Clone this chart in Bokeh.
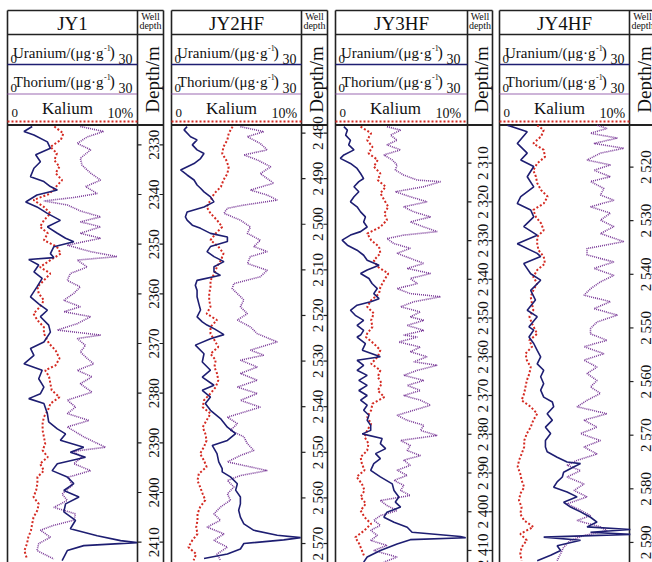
import math
from bokeh.plotting import figure
from bokeh.models import Range1d
from bokeh.embed import file_html
from bokeh.resources import INLINE
from bokeh.core.properties import value

# ---------------- data ----------------
well_names = ["JY1", "JY2HF", "JY3HF", "JY4HF"]

jy1_ticks = [2330, 2340, 2350, 2360, 2370, 2380, 2390, 2400, 2410]
jy1_tick_labels = ["2330", "2340", "2350", "2360", "2370", "2380", "2390", "2400", "2410"]
jy2_ticks = [2480, 2490, 2500, 2510, 2520, 2530, 2540, 2550, 2560, 2570]
jy2_tick_labels = ["2 480", "2 490", "2 500", "2 510", "2 520", "2 530", "2 540", "2 550", "2 560", "2 570"]
jy3_ticks = [2310, 2320, 2330, 2340, 2350, 2360, 2370, 2380, 2390, 2400, 2410]
jy3_tick_labels = ["2 310", "2 320", "2 330", "2 340", "2 350", "2 360", "2 370", "2 380", "2 390", "2 400", "2 410"]
jy4_ticks = [2520, 2530, 2540, 2550, 2560, 2570, 2580, 2590]
jy4_tick_labels = ["2 520", "2 530", "2 540", "2 550", "2 560", "2 570", "2 580", "2 590"]

# (depth m, uranium ug/g)
jy1_uranium = [(2326.3,5.7),(2327.3,3.8),(2328.0,6.1),(2329.4,9.2),(2330.7,9.9),(2332.0,6.5),(2333.4,7.6),(2334.7,6.1),(2336.4,5.3),(2337.4,8.4),(2338.4,9.9),(2339.1,11.5),(2340.1,6.8),(2341.5,4.2),(2342.5,6.8),(2343.8,9.2),(2345.2,12.2),(2346.5,9.2),(2347.8,11.5),(2348.8,13.4),(2349.5,15.3),(2350.5,10.7),(2351.9,9.9),(2352.7,10.7),(2353.1,4.9),(2354.2,7.2),(2355.6,6.1),(2356.9,8.0),(2358.6,6.8),(2360.6,5.3),(2362.0,7.2),(2363.3,9.2),(2364.6,7.6),(2366.3,9.5),(2367.7,9.9),(2369.7,8.4),(2371.0,5.3),(2372.4,6.1),(2374.1,3.8),(2375.4,8.0),(2377.1,7.2),(2378.8,8.4),(2380.1,7.6),(2381.1,4.9),(2382.1,8.4),(2384.1,9.2),(2385.8,9.5),(2387.2,11.5),(2388.2,13.4),(2389.5,12.2),(2390.9,17.6),(2391.9,14.5),(2392.9,18.0),(2394.2,11.5),(2395.6,10.3),(2396.9,13.8),(2398.2,15.3),(2399.6,13.0),(2400.9,16.5),(2402.3,13.4),(2403.9,13.0),(2405.6,15.7),(2407.3,14.5),(2408.7,20.7),(2409.7,26.1),(2410.1,29.9),(2410.7,17.6),(2411.7,13.8),(2413.7,12.6)]
# (depth m, thorium ug/g)
jy1_thorium = [(2326.3,16.8),(2327.3,22.2),(2328.4,18.4),(2329.7,16.1),(2331.0,19.2),(2332.7,16.8),(2334.1,17.2),(2335.7,19.2),(2337.1,21.5),(2338.4,18.0),(2339.8,20.7),(2340.6,15.3),(2341.3,8.4),(2342.1,13.8),(2343.3,16.8),(2344.5,21.5),(2345.5,16.8),(2346.5,21.5),(2347.8,16.8),(2348.8,21.5),(2350.2,13.8),(2351.5,19.2),(2352.5,25.3),(2353.2,16.1),(2354.6,18.4),(2355.9,14.5),(2357.3,13.8),(2358.6,16.8),(2359.9,15.3),(2361.3,13.0),(2362.6,16.8),(2363.6,13.0),(2364.6,19.2),(2366.0,16.1),(2367.3,11.5),(2368.3,21.5),(2369.0,16.1),(2370.4,18.0),(2371.7,16.8),(2373.0,18.4),(2374.1,19.9),(2375.4,16.1),(2376.7,19.5),(2378.1,16.8),(2379.8,19.5),(2381.4,13.8),(2382.8,15.7),(2384.1,13.8),(2385.5,18.8),(2386.8,13.8),(2388.8,17.6),(2390.9,22.6),(2391.7,15.3),(2392.9,17.2),(2394.2,15.3),(2395.6,19.2),(2396.9,14.1),(2398.6,14.9),(2400.3,12.6),(2401.6,13.8),(2403.0,10.7),(2404.3,15.7),(2405.6,15.3),(2406.6,10.7),(2407.6,7.6),(2409.0,9.9),(2410.3,7.2),(2411.7,6.8),(2413.4,10.7)]
# (depth m, kalium %)
jy1_kalium = [(2326.3,3.6),(2327.7,4.3),(2329.0,4.1),(2330.4,3.3),(2331.7,3.8),(2333.1,3.6),(2334.4,4.0),(2335.7,3.7),(2337.1,4.2),(2338.8,3.6),(2339.9,3.2),(2341.1,2.0),(2342.5,2.8),(2343.8,3.3),(2345.2,2.8),(2346.5,2.5),(2347.8,3.1),(2349.2,2.8),(2350.5,3.8),(2351.9,4.1),(2353.2,3.3),(2354.6,2.5),(2355.9,3.3),(2357.3,2.8),(2358.6,2.3),(2359.9,2.4),(2361.3,2.8),(2362.6,2.5),(2364.0,2.0),(2365.3,2.3),(2366.7,2.8),(2368.0,2.8),(2370.0,3.2),(2371.4,3.7),(2373.0,4.0),(2374.4,3.7),(2375.4,2.9),(2376.7,3.2),(2378.1,3.3),(2379.4,3.4),(2380.8,4.0),(2382.1,3.3),(2383.5,3.1),(2384.8,2.8),(2386.1,2.7),(2387.5,2.7),(2388.8,2.8),(2390.2,2.9),(2391.5,2.7),(2392.9,3.1),(2394.2,2.5),(2395.6,2.8),(2396.9,2.3),(2398.2,2.3),(2399.6,2.2),(2400.9,2.0),(2402.3,2.4),(2403.6,2.3),(2405.0,2.0),(2406.3,1.9),(2407.7,1.8),(2409.0,1.6),(2410.3,1.5),(2411.7,1.3),(2413.4,1.5)]

jy2_uranium = [(2478.6,3.6),(2479.3,2.9),(2480.8,4.4),(2481.5,5.9),(2482.6,4.8),(2483.7,5.9),(2484.5,7.5),(2485.6,6.7),(2486.7,5.2),(2488.1,2.1),(2489.2,3.6),(2490.3,5.2),(2491.4,5.9),(2492.1,6.7),(2492.9,7.5),(2494.0,9.0),(2495.1,9.8),(2496.2,7.5),(2497.3,3.6),(2498.4,3.2),(2499.1,3.6),(2500.2,4.8),(2500.9,6.7),(2502.0,9.0),(2502.8,12.9),(2503.8,12.9),(2504.9,9.0),(2506.0,8.2),(2507.1,9.8),(2508.2,12.1),(2509.3,9.8),(2510.4,9.8),(2511.2,11.3),(2512.3,5.9),(2513.4,5.5),(2514.5,5.9),(2515.9,5.9),(2517.4,6.3),(2518.8,6.7),(2520.3,5.9),(2521.4,7.1),(2522.1,8.2),(2523.0,10.0),(2524.2,12.1),(2525.1,9.0),(2526.5,5.5),(2528.4,7.5),(2530.2,7.1),(2532.0,9.0),(2533.5,7.1),(2535.3,9.8),(2536.4,7.1),(2537.9,9.0),(2539.3,7.8),(2540.8,9.0),(2542.6,11.3),(2544.5,12.9),(2545.9,14.8),(2547.4,12.9),(2548.5,9.4),(2550.3,10.5),(2552.1,10.9),(2553.6,11.7),(2554.3,11.7),(2555.4,13.6),(2556.9,15.2),(2558.3,14.8),(2559.8,15.9),(2561.3,15.9),(2562.7,15.5),(2564.2,15.9),(2565.7,16.7),(2567.1,19.0),(2568.2,24.4),(2568.7,29.8),(2569.2,25.9),(2570.0,16.7),(2571.2,15.9),(2572.3,12.9),(2573.3,7.5)]
jy2_thorium = [(2478.6,15.9),(2479.7,21.3),(2480.8,17.5),(2482.3,20.5),(2483.7,22.1),(2484.8,16.7),(2485.9,19.8),(2487.4,22.9),(2488.9,20.5),(2491.0,23.6),(2492.5,18.2),(2493.6,22.1),(2494.7,24.4),(2495.8,16.7),(2496.5,12.9),(2497.6,12.1),(2499.1,15.9),(2500.6,18.2),(2502.0,17.5),(2503.5,20.5),(2504.9,19.0),(2506.0,22.1),(2507.1,18.2),(2508.6,17.5),(2510.1,22.1),(2511.5,20.5),(2513.0,14.4),(2514.1,14.0),(2515.2,15.2),(2516.6,16.7),(2518.1,15.9),(2519.6,17.5),(2521.0,15.2),(2522.5,18.2),(2524.0,19.8),(2525.8,24.4),(2527.6,18.2),(2528.7,21.3),(2529.8,15.9),(2531.3,19.8),(2532.7,15.9),(2534.2,19.8),(2535.7,15.2),(2537.1,19.8),(2538.6,15.9),(2540.1,20.5),(2541.2,16.7),(2542.3,12.9),(2543.7,15.2),(2545.2,13.6),(2546.6,16.7),(2548.1,17.5),(2549.6,19.0),(2550.7,15.9),(2552.1,12.9),(2553.2,18.2),(2554.0,22.1),(2555.1,15.9),(2556.2,12.9),(2557.6,14.4),(2559.1,12.9),(2560.5,13.6),(2562.0,11.3),(2563.5,9.8),(2564.9,11.3),(2566.4,8.2),(2567.9,12.1),(2569.3,9.8),(2570.8,12.9),(2572.3,10.5),(2573.7,11.3)]
jy2_kalium = [(2478.6,4.7),(2480.1,4.4),(2481.5,4.3),(2483.0,4.0),(2484.5,3.9),(2485.9,4.2),(2487.4,4.4),(2488.9,4.3),(2490.3,4.0),(2491.8,3.8),(2493.2,3.3),(2494.7,3.0),(2496.2,2.7),(2497.6,3.0),(2499.1,3.5),(2500.6,3.9),(2502.0,3.4),(2503.5,3.0),(2504.9,3.6),(2506.4,4.0),(2507.9,3.8),(2509.3,3.5),(2510.8,3.3),(2512.3,3.0),(2513.7,3.0),(2515.2,2.9),(2516.6,2.9),(2518.1,3.0),(2519.6,2.7),(2521.0,3.5),(2522.5,3.0),(2524.0,3.0),(2525.4,3.3),(2526.9,3.6),(2528.4,3.0),(2529.8,3.4),(2531.3,3.3),(2532.7,3.5),(2534.2,3.6),(2535.7,3.4),(2537.1,3.0),(2538.6,2.5),(2540.1,2.4),(2541.5,3.0),(2543.0,2.7),(2544.5,2.4),(2545.9,2.6),(2547.4,2.7),(2548.8,2.5),(2550.3,2.2),(2551.8,2.5),(2553.2,2.7),(2554.7,2.1),(2556.2,2.0),(2557.6,2.2),(2559.1,2.4),(2560.5,2.6),(2562.0,2.2),(2563.5,2.0),(2564.9,2.0),(2566.4,1.9),(2567.9,2.0),(2569.3,1.6),(2570.8,1.3),(2572.3,1.9),(2573.7,1.7)]

jy3_uranium = [(2300.6,1.9),(2301.5,2.7),(2302.8,2.3),(2304.1,3.4),(2305.3,3.0),(2306.6,4.2),(2307.9,1.9),(2308.8,1.1),(2310.1,3.4),(2311.4,4.9),(2312.7,5.7),(2314.0,6.4),(2314.8,5.3),(2316.1,4.2),(2317.4,5.3),(2318.7,4.2),(2320.0,3.4),(2321.3,4.9),(2322.6,5.7),(2323.9,6.8),(2325.2,6.4),(2326.5,7.2),(2327.7,5.7),(2328.6,3.4),(2329.9,1.5),(2331.2,2.7),(2332.5,4.9),(2333.8,6.4),(2335.1,7.2),(2336.4,9.9),(2337.6,7.2),(2338.5,5.7),(2339.8,7.6),(2341.1,8.3),(2342.4,9.5),(2343.7,8.7),(2345.0,9.9),(2345.8,8.0),(2346.7,4.9),(2348.0,3.4),(2349.3,4.5),(2350.6,6.4),(2351.9,4.9),(2353.2,6.4),(2354.4,5.7),(2354.9,4.9),(2356.6,6.8),(2358.3,6.1),(2360.0,10.2),(2360.9,4.9),(2362.2,6.4),(2363.5,4.9),(2364.8,7.2),(2366.1,5.3),(2367.4,7.2),(2368.7,5.3),(2370.0,7.2),(2371.2,5.7),(2372.5,7.2),(2373.8,6.4),(2375.1,7.6),(2376.4,7.2),(2377.7,8.0),(2379.0,8.0),(2379.9,6.1),(2381.1,10.6),(2382.4,10.2),(2383.7,11.4),(2385.0,9.1),(2386.3,10.2),(2387.6,8.7),(2389.3,8.0),(2391.0,10.2),(2392.8,12.9),(2394.5,13.3),(2396.2,14.4),(2397.5,13.6),(2398.8,14.8),(2400.1,11.7),(2401.4,11.0),(2402.7,13.3),(2404.0,16.3),(2405.3,17.4),(2406.4,28.4),(2406.7,29.6),(2407.2,17.0),(2408.3,14.0),(2410.0,10.2),(2411.7,7.2),(2413.0,6.4)]
jy3_thorium = [(2300.6,11.7),(2301.5,14.8),(2302.8,12.5),(2304.1,14.0),(2305.3,11.7),(2306.6,14.8),(2307.9,11.0),(2309.2,12.9),(2310.5,14.0),(2311.8,13.6),(2313.1,15.5),(2314.4,18.6),(2314.8,23.9),(2316.1,20.1),(2317.4,13.6),(2318.7,17.0),(2320.0,20.8),(2321.3,15.5),(2322.6,17.8),(2323.9,21.6),(2325.2,17.0),(2326.5,20.1),(2327.7,23.1),(2328.6,15.5),(2329.5,11.7),(2330.8,13.3),(2332.0,17.0),(2333.3,14.0),(2334.6,17.0),(2335.9,20.1),(2337.2,16.3),(2338.5,21.6),(2339.8,17.0),(2341.1,18.6),(2342.4,14.0),(2343.7,17.0),(2344.5,23.9),(2345.8,17.8),(2347.1,14.8),(2348.4,19.3),(2349.7,17.0),(2350.6,20.1),(2351.9,16.3),(2353.2,20.1),(2354.4,15.5),(2354.9,18.6),(2356.2,14.4),(2357.5,19.3),(2358.7,17.0),(2360.0,20.8),(2361.3,17.8),(2362.2,23.1),(2363.5,18.6),(2364.8,15.5),(2366.1,20.1),(2367.4,16.3),(2368.7,19.3),(2370.0,15.5),(2371.2,19.3),(2372.5,21.6),(2373.8,17.8),(2375.1,14.0),(2376.4,16.3),(2377.7,20.1),(2379.0,19.3),(2380.3,23.1),(2381.6,14.8),(2382.9,17.0),(2384.2,16.3),(2385.5,19.3),(2386.7,15.5),(2388.0,17.0),(2389.3,14.0),(2390.6,16.3),(2391.9,13.3),(2393.2,15.5),(2394.5,14.8),(2395.8,17.0),(2397.1,10.2),(2398.4,11.7),(2399.7,14.0),(2401.0,10.2),(2402.2,8.7),(2403.5,10.2),(2404.8,8.0),(2406.1,9.5),(2407.4,8.0),(2408.7,11.7),(2410.0,8.7),(2411.7,14.0),(2413.0,11.0)]
jy3_kalium = [(2300.6,1.9),(2302.3,2.7),(2304.1,2.4),(2305.8,2.8),(2307.5,2.5),(2309.2,3.2),(2310.9,2.9),(2312.7,3.4),(2314.4,3.2),(2316.1,3.8),(2317.8,3.4),(2319.6,3.7),(2321.3,4.0),(2323.0,3.7),(2324.7,3.9),(2326.5,3.4),(2328.2,2.4),(2329.9,2.7),(2331.6,3.3),(2333.3,3.4),(2335.1,2.9),(2336.8,3.2),(2338.5,4.0),(2340.2,3.7),(2342.0,3.4),(2343.7,3.3),(2345.4,2.7),(2347.1,2.4),(2348.8,2.9),(2350.6,2.7),(2352.3,2.8),(2354.0,2.4),(2354.9,2.3),(2356.6,2.9),(2358.3,3.4),(2360.0,3.2),(2361.8,2.7),(2363.5,3.4),(2365.2,3.2),(2366.9,3.5),(2368.7,3.2),(2370.4,3.7),(2372.1,2.8),(2373.8,2.7),(2375.5,2.4),(2377.3,2.7),(2379.0,2.4),(2380.7,2.2),(2382.4,2.5),(2384.2,2.4),(2385.9,1.9),(2387.6,2.0),(2389.3,2.2),(2391.0,1.6),(2392.8,2.0),(2394.5,2.2),(2396.2,1.9),(2397.9,2.3),(2399.7,1.9),(2401.4,2.2),(2403.1,2.7),(2404.8,2.2),(2406.6,1.5),(2408.3,1.8),(2410.0,2.0),(2411.7,2.2)]

jy4_uranium = [(2512.2,1.8),(2513.4,6.4),(2515.6,4.1),(2517.4,6.4),(2518.7,4.9),(2519.9,7.9),(2521.8,6.4),(2523.7,7.9),(2525.5,4.9),(2526.8,4.1),(2528.0,7.2),(2529.3,7.9),(2531.1,5.6),(2532.7,8.7),(2534.3,4.1),(2536.1,8.7),(2536.7,9.5),(2538.0,5.6),(2539.9,7.2),(2541.1,9.5),(2543.0,7.2),(2544.8,8.3),(2546.7,6.4),(2547.9,8.7),(2549.8,6.8),(2550.4,7.9),(2551.7,6.8),(2552.9,7.9),(2554.2,8.7),(2555.4,9.5),(2556.7,8.7),(2557.9,10.2),(2559.1,9.5),(2560.4,10.2),(2561.6,9.5),(2562.9,10.2),(2563.8,12.2),(2564.7,12.5),(2566.0,11.0),(2567.2,12.2),(2568.5,10.6),(2569.7,11.8),(2571.0,10.6),(2572.2,10.6),(2573.1,11.0),(2574.1,13.3),(2575.0,15.6),(2575.3,18.7),(2575.9,17.2),(2576.9,14.8),(2577.8,14.5),(2578.7,13.3),(2579.7,12.5),(2580.6,15.6),(2581.5,17.9),(2582.5,14.8),(2583.4,16.4),(2584.3,18.7),(2585.3,21.0),(2586.2,22.5),(2587.1,20.2),(2587.6,30.2),(2588.1,21.0),(2588.5,30.2),(2589.0,10.2),(2589.6,18.7),(2590.6,13.3),(2591.5,14.1),(2592.4,11.8),(2593.4,8.7)]
jy4_thorium = [(2512.2,22.5),(2512.8,24.8),(2513.7,21.0),(2514.6,27.2),(2515.6,21.8),(2516.5,28.7),(2517.4,23.3),(2518.7,20.2),(2519.6,25.6),(2520.6,21.8),(2521.8,25.6),(2522.7,21.0),(2524.0,24.1),(2525.2,23.3),(2526.2,26.4),(2527.4,21.0),(2528.6,25.6),(2529.9,23.3),(2531.1,26.4),(2532.4,23.3),(2533.9,28.7),(2535.2,20.2),(2536.4,20.2),(2537.7,26.4),(2538.9,21.8),(2540.2,26.4),(2541.4,23.3),(2542.7,21.0),(2543.9,19.5),(2545.1,25.6),(2546.4,21.8),(2547.6,27.2),(2548.9,22.5),(2550.1,21.0),(2551.1,21.0),(2552.3,24.8),(2553.5,19.5),(2554.8,24.1),(2556.0,19.5),(2557.3,22.5),(2558.5,20.2),(2559.8,22.5),(2561.0,21.0),(2562.2,23.3),(2563.5,20.2),(2564.7,17.9),(2566.0,24.8),(2567.2,19.5),(2568.5,22.5),(2569.7,18.7),(2571.0,23.3),(2572.2,19.5),(2573.5,22.5),(2574.7,17.9),(2575.6,15.6),(2576.6,18.7),(2577.8,15.6),(2579.1,19.5),(2580.3,17.2),(2581.5,20.2),(2582.8,15.6),(2584.0,18.7),(2585.0,21.0),(2585.9,17.9),(2587.1,23.3),(2587.8,24.8),(2588.7,19.5),(2589.6,16.4),(2590.9,14.8),(2592.1,14.1),(2593.4,13.3)]
jy4_kalium = [(2512.2,2.9),(2513.1,3.4),(2514.3,3.2),(2515.6,2.6),(2516.8,3.4),(2518.1,3.5),(2519.3,2.9),(2520.6,2.6),(2521.8,2.8),(2523.0,2.9),(2524.3,3.2),(2525.5,3.7),(2526.8,3.4),(2528.0,2.6),(2529.3,2.8),(2530.5,3.2),(2531.8,3.4),(2533.0,2.9),(2534.3,2.9),(2535.5,3.0),(2536.7,3.4),(2538.0,3.5),(2539.2,2.9),(2540.5,2.6),(2541.7,2.9),(2543.0,2.6),(2544.2,2.4),(2545.5,2.5),(2546.7,2.6),(2547.9,2.3),(2549.2,2.5),(2551.1,2.9),(2552.3,2.3),(2553.5,2.5),(2554.8,2.0),(2556.0,2.1),(2557.3,2.4),(2558.5,2.3),(2559.8,2.1),(2561.0,2.0),(2562.2,1.9),(2563.5,1.7),(2564.7,2.4),(2566.0,2.9),(2567.2,2.6),(2568.5,2.4),(2569.7,2.1),(2571.0,1.9),(2572.2,1.9),(2573.5,1.7),(2574.7,1.5),(2575.9,1.4),(2577.2,1.6),(2578.4,1.7),(2579.7,1.9),(2580.9,1.6),(2582.2,1.5),(2583.4,1.7),(2584.7,1.6),(2585.9,1.9),(2587.1,2.6),(2588.4,1.6),(2589.6,2.1),(2590.9,1.7),(2592.1,1.6),(2593.4,1.7)]

uranium_range = (0, 30)
thorium_range = (0, 30)
kalium_range = (0, 10)

# ---------------- layout (pixels) ----------------
W, H = 652, 562
panels = [(7, 137, 163), (171, 301, 327), (335, 467, 492), (499, 629, 655)]
depth_windows = [(2326.0, 2414.1), (2478.24, 2574.16), (2300.18, 2413.1), (2512.16, 2593.74)]
TOP, TITLE_BOT, HEAD_BOT = 10, 34, 124.5

NAVY, PURPLE, RED, INK = "#1e1e72", "#7a3a98", "#d42a22", "#222222"
SERIF = value("Liberation Serif")

p = figure(width=W, height=H, output_backend="svg", toolbar_location=None,
           x_range=Range1d(0, W), y_range=Range1d(H, 0), min_border=0,
           x_axis_location=None, y_axis_location=None)
p.grid.visible = False
p.outline_line_color = None
p.background_fill_color = "white"
p.border_fill_color = "white"


def txt(x, y, s, size, align="left", angle=0.0):
    p.text(x=[x], y=[y], text=[s], text_font=SERIF, text_font_size=f"{size}px",
           text_align=align, text_baseline="middle", angle=angle, text_color="#111111")


wells = [
    (jy1_uranium, jy1_thorium, jy1_kalium, jy1_ticks, jy1_tick_labels),
    (jy2_uranium, jy2_thorium, jy2_kalium, jy2_ticks, jy2_tick_labels),
    (jy3_uranium, jy3_thorium, jy3_kalium, jy3_ticks, jy3_tick_labels),
    (jy4_uranium, jy4_thorium, jy4_kalium, jy4_ticks, jy4_tick_labels),
]

for i, (name, (L, R, D), (dtop, dbot), (u, th, k, ticks, tlabels)) in enumerate(
        zip(well_names, panels, depth_windows, wells)):
    span = R - L
    pxpm = (H - HEAD_BOT) / (dbot - dtop)
    p.extra_y_ranges[f"d{i}"] = Range1d(start=dbot, end=dtop - HEAD_BOT / pxpm)
    for key, (v0, v1) in (("u", uranium_range), ("t", thorium_range), ("k", kalium_range)):
        scale = (v1 - v0) / span
        p.extra_x_ranges[f"{key}{i}"] = Range1d(start=v0 - L * scale, end=v0 + (W - L) * scale)

    # frame lines
    p.segment(x0=[L, R, D, L, L], y0=[TOP, TOP, TOP, TOP, TITLE_BOT],
              x1=[L, R, D, D, D], y1=[H, H, H, TOP, TITLE_BOT],
              line_color=INK, line_width=1.6)
    p.segment(x0=[L], y0=[HEAD_BOT], x1=[D], y1=[HEAD_BOT], line_color=INK, line_width=2.2)

    # header legend lines
    p.line([L, R], [64, 64], line_color=NAVY, line_width=1.6)
    p.line([L, R], [93.5, 93.5], line_color=PURPLE, line_width=1.6, line_dash="1 1")
    p.line([L, R], [121, 121], line_color=RED, line_width=2, line_dash="2 2")

    # header texts
    txt((L + R) / 2, 23, name, 19, align="center")
    txt((R + D) / 2, 16, "Well", 10, align="center")
    txt((R + D) / 2, 25, "depth", 10, align="center")
    txt((R + D) / 2 + 1.5, 79, "Depth/m", 19, align="center", angle=math.pi / 2)

    txt(L + 3, 58, "0", 13)
    txt(L + 96, 52, "Uranium/(\u03bcg\u00b7g", 15, align="right")
    txt(L + 96.5, 47, "-1", 8)
    txt(L + 102, 52, ")", 16)
    txt(L + 111, 58, "30", 14)

    txt(L + 3, 87, "0", 13)
    txt(L + 96, 81, "Thorium/(\u03bcg\u00b7g", 15, align="right")
    txt(L + 96.5, 76, "-1", 8)
    txt(L + 102, 81, ")", 16)
    txt(L + 111, 87, "30", 14)

    txt(L + 4, 112, "0", 13)
    txt(L + 60, 108, "Kalium", 17, align="center")
    txt(L + 100, 113, "10%", 14)

    # depth column ticks and labels
    n = len(ticks)
    p.segment(x0=[R] * n, y0=ticks, x1=[R + 4] * n, y1=ticks, line_color=INK,
              line_width=1.2, y_range_name=f"d{i}")
    p.segment(x0=[D - 4] * n, y0=ticks, x1=[D] * n, y1=ticks, line_color=INK,
              line_width=1.2, y_range_name=f"d{i}")
    p.text(x=[(R + D) / 2 + 3] * n, y=ticks, text=tlabels, text_font=SERIF,
           text_font_size="15px", text_align="center", text_baseline="middle",
           angle=math.pi / 2, text_color="#111111", y_range_name=f"d{i}")

    # curves
    p.line([v for _, v in k], [d for d, _ in k], line_color=RED, line_width=2,
           line_dash="2 2", x_range_name=f"k{i}", y_range_name=f"d{i}")
    p.line([v for _, v in th], [d for d, _ in th], line_color=PURPLE, line_width=1.6,
           line_dash="1 1", x_range_name=f"t{i}", y_range_name=f"d{i}")
    p.line([v for _, v in u], [d for d, _ in u], line_color=NAVY, line_width=1.6,
           x_range_name=f"u{i}", y_range_name=f"d{i}")

open("out.html", "w").write(file_html(p, INLINE))
